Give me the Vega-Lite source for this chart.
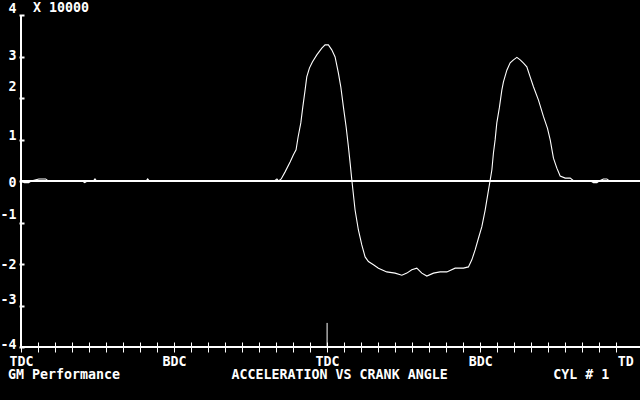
{
  "$schema": "https://vega.github.io/schema/vega-lite/v6.json",
  "width": 619,
  "height": 332,
  "autosize": {"type": "none"},
  "padding": {"left": 21, "top": 15, "right": 0, "bottom": 53},
  "background": "black",
  "config": {
    "view": {"stroke": null},
    "axis": {
      "grid": false,
      "labelColor": "white",
      "labelFont": "DejaVu Sans Mono",
      "labelFontSize": 13.3,
      "labelFontWeight": "bold",
      "tickColor": "white",
      "domain": false,
      "title": null,
      "labelFlush": false,
      "labelOverlap": false
    },
    "text": {"color": "white", "font": "DejaVu Sans Mono", "fontSize": 13.3, "fontWeight": "bold"}
  },
  "layer": [
    {
      "data": {"values": [{}]},
      "mark": {"type": "rule", "color": "white", "strokeWidth": 2},
      "encoding": {"y": {"datum": 0, "type": "quantitative"}}
    },
    {
      "data": {"values": [
        {"angle": 0, "accel": 0}, {"angle": 4, "accel": -0.04}, {"angle": 9, "accel": -0.04}, {"angle": 12, "accel": 0},
        {"angle": 21, "accel": 0.05}, {"angle": 29, "accel": 0.05}, {"angle": 32, "accel": 0},
        {"angle": 72, "accel": 0}, {"angle": 75, "accel": -0.04}, {"angle": 78, "accel": 0},
        {"angle": 85, "accel": 0}, {"angle": 87, "accel": 0.05}, {"angle": 89, "accel": 0},
        {"angle": 147, "accel": 0}, {"angle": 149, "accel": 0.05}, {"angle": 151, "accel": 0},
        {"angle": 298, "accel": 0}, {"angle": 301, "accel": 0.05}, {"angle": 303, "accel": 0},
        {"angle": 306, "accel": 0.05}, {"angle": 310.6, "accel": 0.22}, {"angle": 316.5, "accel": 0.46},
        {"angle": 320.4, "accel": 0.63}, {"angle": 323.5, "accel": 0.75}, {"angle": 325.9, "accel": 1.06},
        {"angle": 329.1, "accel": 1.40}, {"angle": 331.4, "accel": 1.78}, {"angle": 334.1, "accel": 2.19},
        {"angle": 336.1, "accel": 2.51}, {"angle": 339.2, "accel": 2.72}, {"angle": 342.7, "accel": 2.87},
        {"angle": 347.9, "accel": 3.04}, {"angle": 353.8, "accel": 3.20}, {"angle": 357.6, "accel": 3.28},
        {"angle": 361.5, "accel": 3.28}, {"angle": 365.5, "accel": 3.16}, {"angle": 369.4, "accel": 2.99},
        {"angle": 373.3, "accel": 2.60}, {"angle": 376.1, "accel": 2.27}, {"angle": 379.2, "accel": 1.78},
        {"angle": 382.4, "accel": 1.30}, {"angle": 385.1, "accel": 0.82}, {"angle": 387.1, "accel": 0.43},
        {"angle": 389.1, "accel": 0.02}, {"angle": 392.9, "accel": -0.70}, {"angle": 396.8, "accel": -1.18},
        {"angle": 400.8, "accel": -1.54}, {"angle": 404.7, "accel": -1.83}, {"angle": 408.6, "accel": -1.94},
        {"angle": 414.5, "accel": -2.02}, {"angle": 420.4, "accel": -2.10}, {"angle": 430.2, "accel": -2.19},
        {"angle": 440, "accel": -2.22}, {"angle": 447.9, "accel": -2.27}, {"angle": 453.8, "accel": -2.22},
        {"angle": 459.6, "accel": -2.14}, {"angle": 465.5, "accel": -2.10}, {"angle": 471.4, "accel": -2.22},
        {"angle": 477.3, "accel": -2.29}, {"angle": 485.1, "accel": -2.22}, {"angle": 492.9, "accel": -2.19},
        {"angle": 500.8, "accel": -2.19}, {"angle": 510.6, "accel": -2.10}, {"angle": 520.4, "accel": -2.10},
        {"angle": 526.2, "accel": -2.07}, {"angle": 530.2, "accel": -1.90}, {"angle": 534.1, "accel": -1.66},
        {"angle": 538, "accel": -1.38}, {"angle": 542, "accel": -1.10}, {"angle": 545.9, "accel": -0.70},
        {"angle": 549.8, "accel": -0.22}, {"angle": 551.8, "accel": 0.02}, {"angle": 553.8, "accel": 0.27},
        {"angle": 555.6, "accel": 0.67}, {"angle": 557.6, "accel": 0.99}, {"angle": 559.6, "accel": 1.40},
        {"angle": 562.7, "accel": 1.78}, {"angle": 565.5, "accel": 2.19}, {"angle": 567.4, "accel": 2.39},
        {"angle": 571.4, "accel": 2.67}, {"angle": 575.3, "accel": 2.85}, {"angle": 579.2, "accel": 2.92},
        {"angle": 583.2, "accel": 2.98}, {"angle": 587.1, "accel": 2.92}, {"angle": 591, "accel": 2.84},
        {"angle": 594.9, "accel": 2.75}, {"angle": 598.8, "accel": 2.51}, {"angle": 602.7, "accel": 2.27},
        {"angle": 608.6, "accel": 1.95}, {"angle": 614.5, "accel": 1.55}, {"angle": 619.2, "accel": 1.27},
        {"angle": 622.4, "accel": 0.99}, {"angle": 626.2, "accel": 0.55}, {"angle": 630.2, "accel": 0.31},
        {"angle": 634.1, "accel": 0.12}, {"angle": 640, "accel": 0.07}, {"angle": 645.9, "accel": 0.07},
        {"angle": 649.8, "accel": 0.01}, {"angle": 670, "accel": 0}, {"angle": 673.3, "accel": -0.04},
        {"angle": 677.3, "accel": -0.04}, {"angle": 680, "accel": 0}, {"angle": 685, "accel": 0.05},
        {"angle": 689, "accel": 0.05}, {"angle": 692, "accel": 0}, {"angle": 728, "accel": 0}
      ]},
      "mark": {"type": "line", "color": "white", "strokeWidth": 1.1},
      "encoding": {
        "x": {
          "field": "angle", "type": "quantitative",
          "scale": {"domain": [0, 728], "nice": false, "zero": false},
          "axis": {
            "orient": "bottom",
            "offset": -5,
            "tickSize": 10,
            "tickWidth": 1,
            "tickCount": 60,
            "labelOverlap": false,
            "labelPadding": 2,
            "values": [0,20,40,60,80,100,120,140,160,180,200,220,240,260,280,300,320,340,360,380,400,420,440,460,480,500,520,540,560,580,600,620,640,660,680,700,720],
            "labelExpr": "datum.value == 720 ? 'TD' : datum.value % 360 == 0 ? 'TDC' : datum.value % 180 == 0 ? 'BDC' : ''",
            "labelAlign": {"condition": {"test": "datum.value == 720", "value": "right"}, "value": "center"},
            "tickOpacity": {"condition": {"test": "datum.value == 720", "value": 0}, "value": 1}
          }
        },
        "y": {
          "field": "accel", "type": "quantitative",
          "scale": {"domain": [-4, 4], "nice": false, "zero": false},
          "axis": {
            "orient": "left",
            "offset": -3,
            "tickSize": 5,
            "tickWidth": 2,
            "tickCount": 20,
            "labelExpr": "toString(round(datum.value))",
            "labelOverlap": false,
            "labelPadding": 3,
            "values": [-4,-3,-2,-1,0,1,2,3,4],
            "labelOffset": {"expr": "datum.value == 4 ? -7 : datum.value == 3 ? -1 : datum.value == 2 ? -12 : datum.value == 1 ? -4 : datum.value == 0 ? 1 : datum.value == -1 ? -8 : datum.value == -3 ? -6 : datum.value == -4 ? -3 : 0"}
          }
        }
      }
    },
    {
      "data": {"values": [{}]},
      "mark": {"type": "rule", "color": "white", "strokeWidth": 2},
      "encoding": {"x": {"datum": 0, "type": "quantitative"}}
    },
    {
      "data": {"values": [{}]},
      "mark": {"type": "rule", "color": "white", "strokeWidth": 2},
      "encoding": {"y": {"datum": -4, "type": "quantitative"}}
    },
    {
      "data": {"values": [{}]},
      "mark": {"type": "rule", "color": "white", "strokeWidth": 1},
      "encoding": {
        "x": {"datum": 360, "type": "quantitative"},
        "y": {"datum": -4, "type": "quantitative"},
        "y2": {"datum": -3.42}
      }
    },
    {
      "data": {"values": [{}]},
      "mark": {"type": "text", "align": "left", "baseline": "middle"},
      "encoding": {
        "x": {"datum": 14.1, "type": "quantitative"},
        "y": {"datum": 4.17, "type": "quantitative"},
        "text": {"value": "X 10000"}
      }
    },
    {
      "data": {"values": [{}]},
      "mark": {"type": "text", "align": "left", "baseline": "middle"},
      "encoding": {
        "x": {"datum": -15.3, "type": "quantitative"},
        "y": {"datum": -4.68, "type": "quantitative"},
        "text": {"value": "GM Performance"}
      }
    },
    {
      "data": {"values": [{}]},
      "mark": {"type": "text", "align": "center", "baseline": "middle"},
      "encoding": {
        "x": {"datum": 374.7, "type": "quantitative"},
        "y": {"datum": -4.68, "type": "quantitative"},
        "text": {"value": "ACCELERATION VS CRANK ANGLE"}
      }
    },
    {
      "data": {"values": [{}]},
      "mark": {"type": "text", "align": "left", "baseline": "middle"},
      "encoding": {
        "x": {"datum": 625.9, "type": "quantitative"},
        "y": {"datum": -4.68, "type": "quantitative"},
        "text": {"value": "CYL # 1"}
      }
    }
  ]
}
